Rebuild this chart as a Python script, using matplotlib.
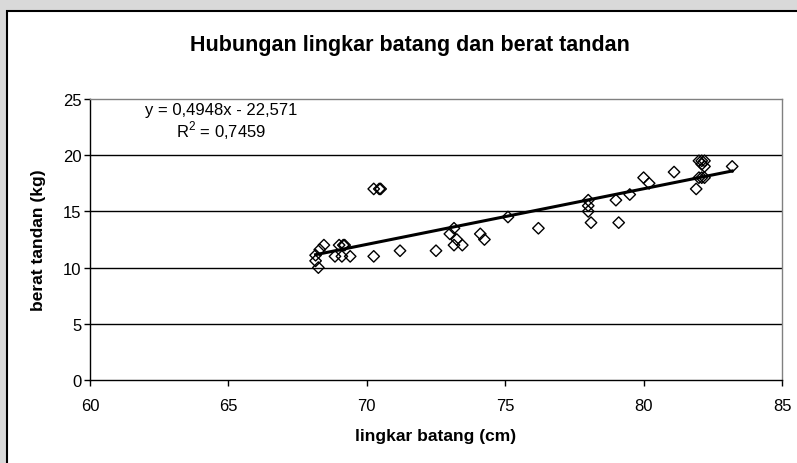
import matplotlib
matplotlib.use("Agg")
import matplotlib.pyplot as plt
from matplotlib.patches import Rectangle
import numpy as np

plt.rcParams['font.family'] = ['Liberation Sans', 'DejaVu Sans']
plt.rcParams['mathtext.fontset'] = 'custom'
plt.rcParams['mathtext.rm'] = 'Liberation Sans'

# data
lingkar = [68.15, 68.15, 68.25, 68.3, 68.45, 68.85, 69.0, 69.2, 69.1, 69.4,
           69.15, 70.25, 70.25, 70.5, 70.45, 71.2, 72.5, 73.0, 73.15, 73.25,
           73.15, 73.45, 74.1, 74.25, 75.1, 76.2, 78.0, 78.0, 78.0, 78.1,
           79.0, 79.1, 79.5, 80.0, 80.2, 81.1, 81.9, 82.0, 82.2, 82.1,
           82.0, 82.1, 82.2, 82.1, 82.2, 83.2]
berat = [11.1, 10.6, 10.0, 11.6, 12.0, 11.0, 12.0, 12.0, 11.0, 11.0,
         12.0, 11.0, 17.0, 17.0, 17.0, 11.5, 11.5, 13.0, 13.5, 12.5,
         12.0, 12.0, 13.0, 12.5, 14.5, 13.5, 16.0, 15.5, 15.0, 14.0,
         16.0, 14.0, 16.5, 18.0, 17.5, 18.5, 17.0, 18.0, 18.0, 18.0,
         19.5, 19.5, 19.5, 19.2, 19.0, 19.0]
slope = 0.4948
intercept = -22.571
eq_text = "y = 0,4948x - 22,571"
r2_text = "R$^2$ = 0,7459"

W, H = 797, 464
fig = plt.figure(figsize=(W / 100, H / 100), dpi=100, facecolor='#d9d9d9')

# white chart frame (runs off the right and bottom edges)
frame = Rectangle((7 / W, -0.1), 1.2, 1.1 - 12 / H, transform=fig.transFigure,
                  facecolor='white', edgecolor='black', linewidth=1.5, zorder=-5)
fig.patches.append(frame)

ax = fig.add_axes([90 / W, 1 - 381 / H, (782 - 90) / W, (381 - 100) / H])
ax.set_facecolor('none')
ax.set_xlim(60, 85)
ax.set_ylim(0, 25)
ax.set_xticks(range(60, 86, 5))
ax.set_yticks(range(0, 26, 5))
for v in [5, 10, 15, 20]:
    ax.axhline(v, color='black', lw=1, zorder=1)

ax.scatter(lingkar, berat, marker='D', s=34, facecolors='none',
           edgecolors='black', linewidths=1, zorder=3)

xs = np.array([min(lingkar), max(lingkar)])
ax.plot(xs, slope * xs + intercept, color='black', lw=2.2, zorder=4)

for s in ['top', 'right']:
    ax.spines[s].set_color('#808080')
    ax.spines[s].set_linewidth(1)
for s in ['left', 'bottom']:
    ax.spines[s].set_color('black')
    ax.spines[s].set_linewidth(1)
ax.tick_params(direction='out', length=4, width=1, labelsize=12, colors='black')
ax.tick_params(axis='x', pad=9)
ax.tick_params(axis='y', pad=2)

ax.set_xlabel("lingkar batang (cm)", fontsize=12.5, fontweight='bold', labelpad=11)
ax.set_ylabel("berat tandan (kg)", fontsize=12.5, fontweight='bold', labelpad=12)

fig.text(221 / W, 1 - 111 / H, eq_text, fontsize=12, va='center', ha='center')
fig.text(221 / W, 1 - 131 / H, r2_text, fontsize=12, va='center', ha='center')
fig.text(410 / W, 1 - 45 / H, "Hubungan lingkar batang dan berat tandan",
         fontsize=15.5, fontweight='bold', ha='center', va='center')

fig.savefig("out.png", dpi=100, facecolor=fig.get_facecolor())
